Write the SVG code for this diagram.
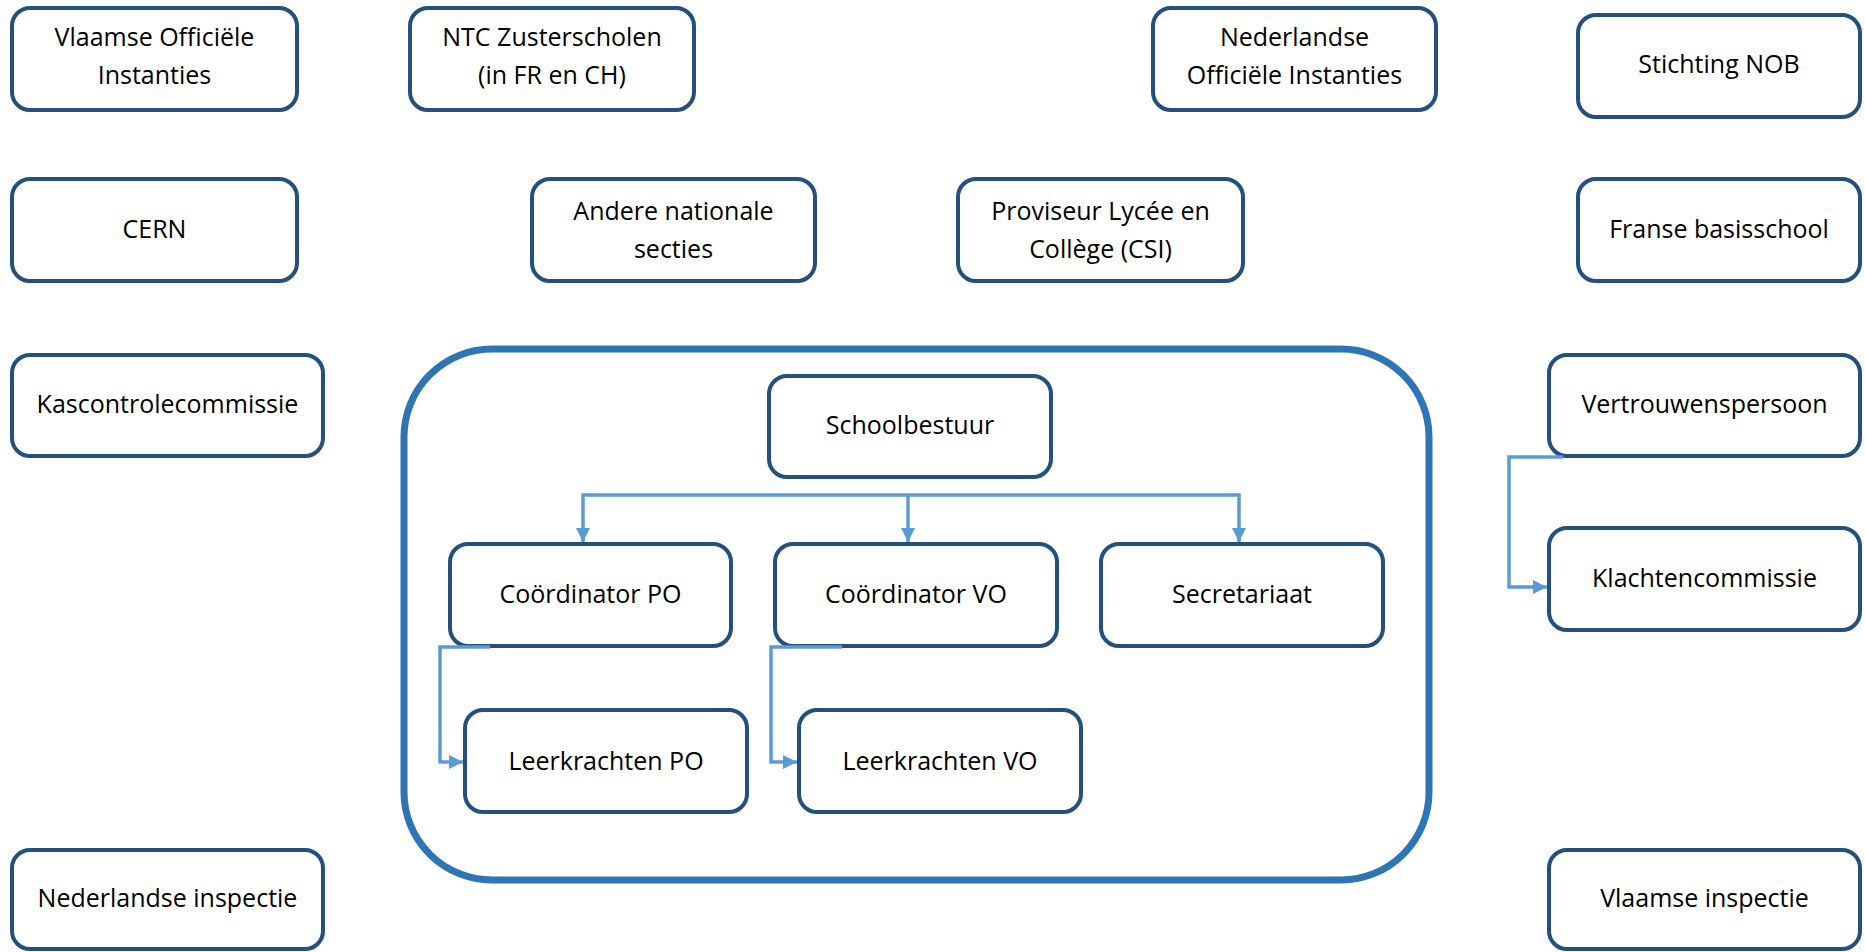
<svg xmlns="http://www.w3.org/2000/svg" width="1865" height="952" viewBox="0 0 1865 952">
<defs>
<style>
.n{fill:#fff;stroke:#24507D;stroke-width:4}
.t{font-family:"Open Sans","Noto Sans","Liberation Sans",sans-serif;font-size:25px;fill:#000;text-anchor:middle}
.c{fill:none;stroke:#5B9BD5;stroke-width:3.5}
.box{fill:none;stroke:#2E75B6;stroke-width:7}
</style>
<marker id="a" markerUnits="userSpaceOnUse" markerWidth="16" markerHeight="16" refX="14" refY="7" orient="auto"><path d="M0,0 L14,7 L0,14 z" fill="#5B9BD5"/></marker>
</defs>
<rect width="1865" height="952" fill="#fff"/>
<rect id="container" class="box" x="404" y="349" width="1025" height="531" rx="88" ry="88"/>
<g id="n1"><rect class="n" x="12" y="8" width="285" height="102" rx="18"/><text class="t" x="154.5" y="46">Vlaamse Officiële</text><text class="t" x="154.5" y="84">Instanties</text></g>
<g id="n2"><rect class="n" x="410" y="8" width="284" height="102" rx="18"/><text class="t" x="552" y="46">NTC Zusterscholen</text><text class="t" x="552" y="84">(in FR en CH)</text></g>
<g id="n3"><rect class="n" x="1153" y="8" width="283" height="102" rx="18"/><text class="t" x="1294.5" y="46">Nederlandse</text><text class="t" x="1294.5" y="84">Officiële Instanties</text></g>
<g id="n4"><rect class="n" x="1578" y="15" width="282" height="102" rx="18"/><text class="t" x="1719" y="73">Stichting NOB</text></g>
<g id="n5"><rect class="n" x="12" y="179" width="285" height="102" rx="18"/><text class="t" x="154.5" y="238">CERN</text></g>
<g id="n6"><rect class="n" x="532" y="179" width="283" height="102" rx="18"/><text class="t" x="673.5" y="220">Andere nationale</text><text class="t" x="673.5" y="258">secties</text></g>
<g id="n7"><rect class="n" x="958" y="179" width="285" height="102" rx="18"/><text class="t" x="1100.5" y="220">Proviseur Lycée en</text><text class="t" x="1100.5" y="258">Collège (CSI)</text></g>
<g id="n8"><rect class="n" x="1578" y="179" width="282" height="102" rx="18"/><text class="t" x="1719" y="238">Franse basisschool</text></g>
<g id="n9"><rect class="n" x="12" y="355" width="311" height="101" rx="18"/><text class="t" x="167.5" y="413">Kascontrolecommissie</text></g>
<g id="n10"><rect class="n" x="1549" y="355" width="311" height="101" rx="18"/><text class="t" x="1704.5" y="413">Vertrouwenspersoon</text></g>
<g id="n11"><rect class="n" x="1549" y="528" width="311" height="102" rx="18"/><text class="t" x="1704.5" y="587">Klachtencommissie</text></g>
<g id="n12"><rect class="n" x="12" y="850" width="311" height="99" rx="18"/><text class="t" x="167.5" y="907">Nederlandse inspectie</text></g>
<g id="n13"><rect class="n" x="1549" y="850" width="311" height="99" rx="18"/><text class="t" x="1704.5" y="907">Vlaamse inspectie</text></g>
<g id="n14"><rect class="n" x="769" y="376" width="282" height="101" rx="18"/><text class="t" x="910" y="434">Schoolbestuur</text></g>
<g id="n15"><rect class="n" x="450" y="544" width="281" height="102" rx="18"/><text class="t" x="590.5" y="603">Coördinator PO</text></g>
<g id="n16"><rect class="n" x="775" y="544" width="282" height="102" rx="18"/><text class="t" x="916" y="603">Coördinator VO</text></g>
<g id="n17"><rect class="n" x="1101" y="544" width="282" height="102" rx="18"/><text class="t" x="1242" y="603">Secretariaat</text></g>
<g id="n18"><rect class="n" x="465" y="710" width="282" height="102" rx="18"/><text class="t" x="606" y="770">Leerkrachten PO</text></g>
<g id="n19"><rect class="n" x="799" y="710" width="282" height="102" rx="18"/><text class="t" x="940" y="770">Leerkrachten VO</text></g>
<g id="connectors">
<path class="c" d="M908,495 H583 V542" marker-end="url(#a)"/>
<path class="c" d="M908,495 V542" marker-end="url(#a)"/>
<path class="c" d="M908,495 H1239 V542" marker-end="url(#a)"/>
<path class="c" d="M490,647 H440 V762 H463" marker-end="url(#a)"/>
<path class="c" d="M842,647 H771 V762 H797" marker-end="url(#a)"/>
<path class="c" d="M1563,457 H1509 V587 H1547" marker-end="url(#a)"/>
</g>
</svg>
